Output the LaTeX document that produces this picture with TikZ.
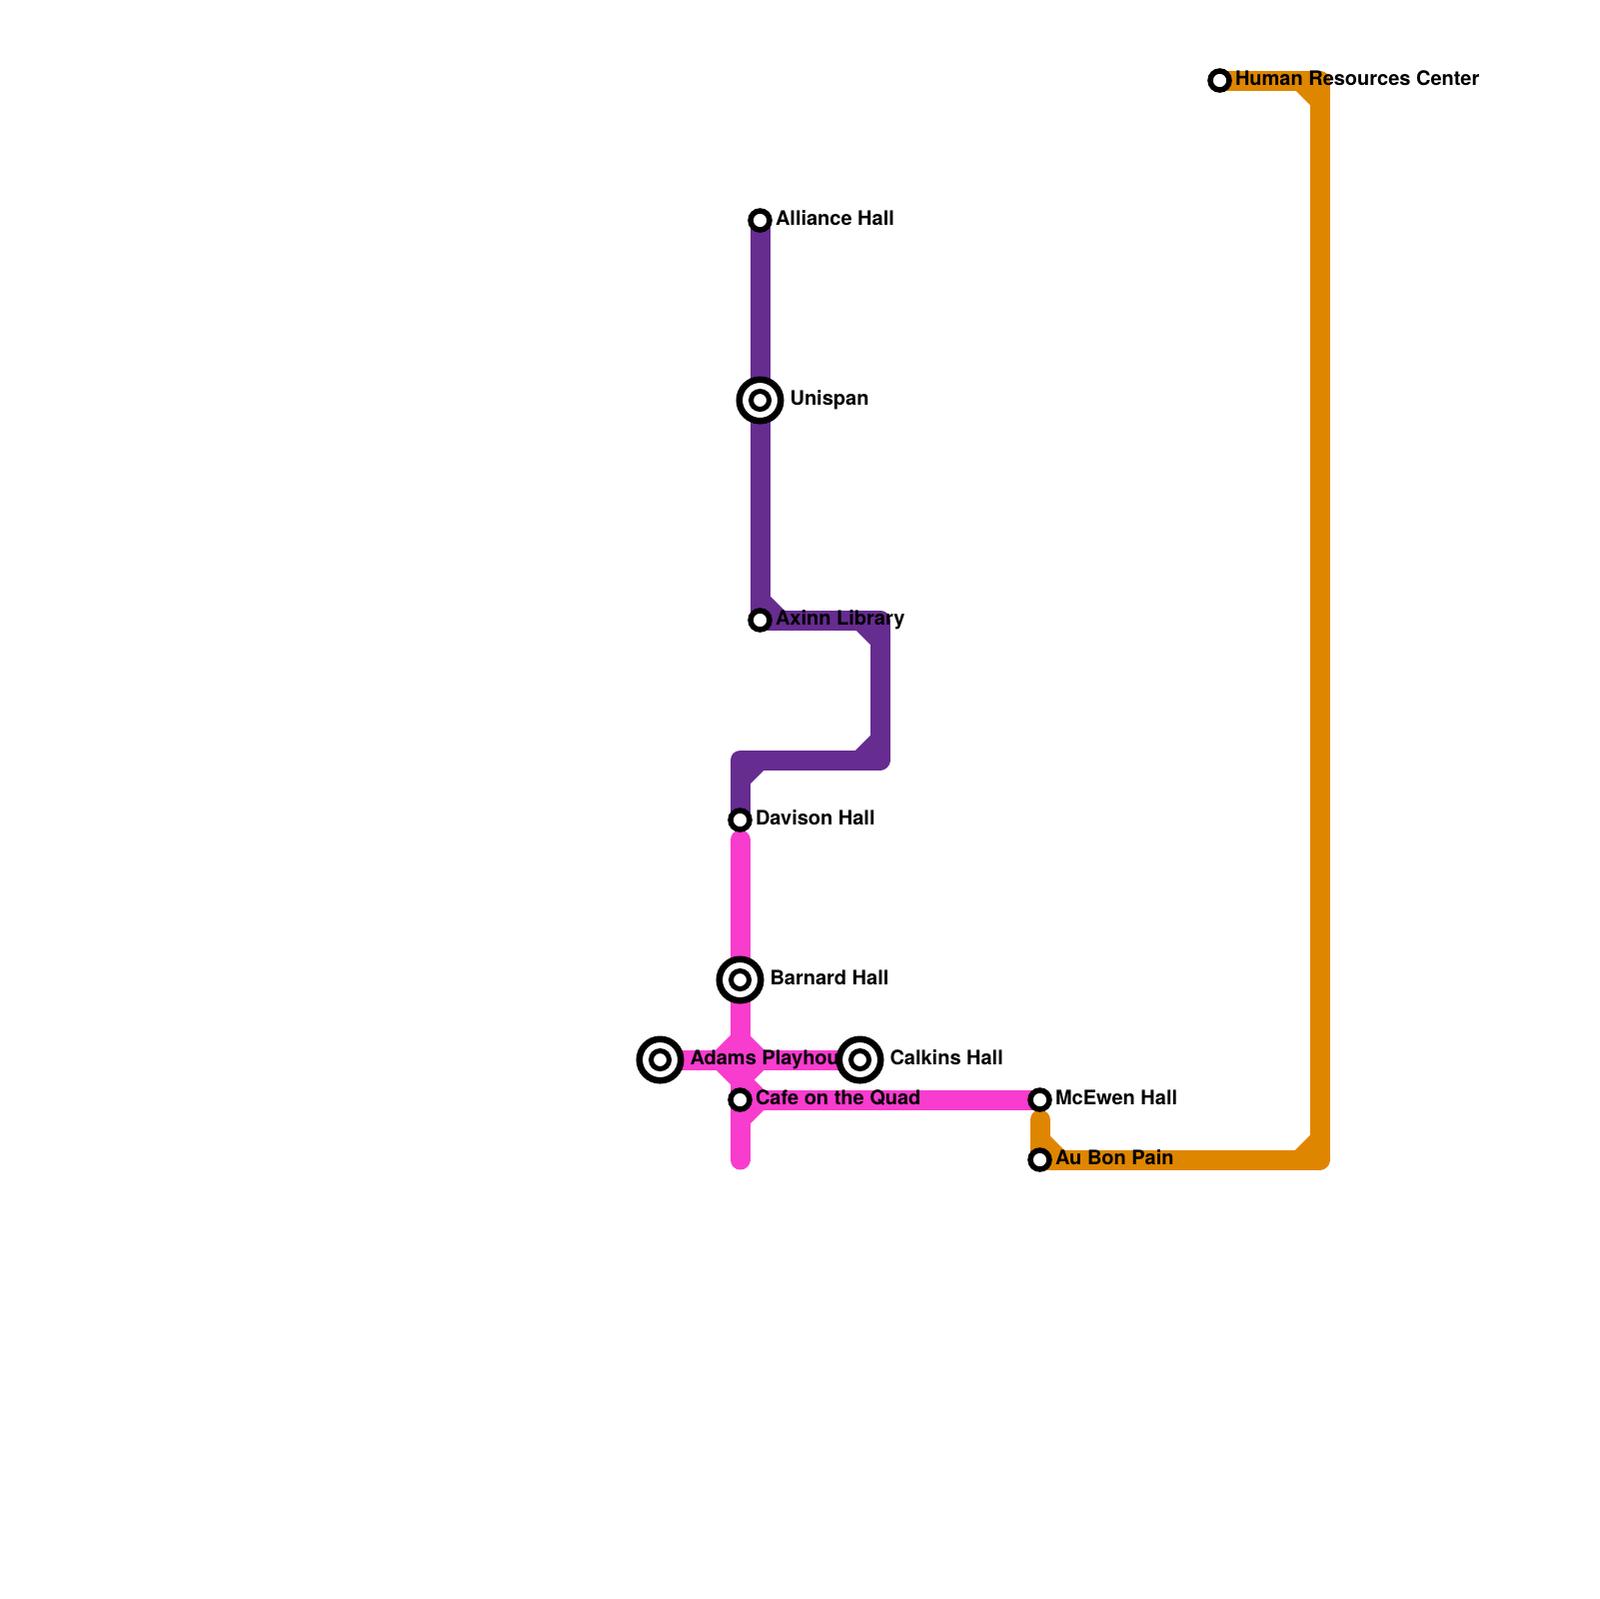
\documentclass[tikz,border=0pt]{standalone}
\usepackage{fontspec}
\setmainfont{TeX Gyre Heros}
\usetikzlibrary{backgrounds}
\definecolor{linePurple}{HTML}{662C90}
\definecolor{linePink}{HTML}{F83CCE}
\definecolor{lineOrange}{HTML}{DF8600}
\tikzset{
  metro/.style={line width=2mm,line cap=round,line join=round},
  bevel/.style={line width=2mm},
  stopsmall/.style={circle,draw=black,fill=white,line width=0.55mm,minimum size=1.9mm,inner sep=0pt,outer sep=0pt},
  stopbig/.style={circle,draw=black,fill=white,line width=0.65mm,minimum size=4.15mm,inner sep=0pt,outer sep=0pt,
    path picture={\draw[line width=0.5mm] (path picture bounding box.center) circle (9);}},
  stoplabel/.style={anchor=base west,inner sep=0pt,outer sep=0pt,font=\fontsize{5.69pt}{7pt}\selectfont\bfseries}
}
\begin{document}
\begin{tikzpicture}[x=0.1mm,y=-0.1mm]
  \useasboundingbox (-0.5,-0.5) rectangle (1599.5,1599.5);
  % stations in name order, later rings sit on earlier labels
  \foreach \n/\x/\y/\s/\d/\t in {adams/660/1060/stopbig/3/Adams Playhouse,alliance/760/220/stopsmall/1.55/Alliance Hall,aubon/1040/1160/stopsmall/1.55/Au Bon Pain,axinn/760/620/stopsmall/1.55/Axinn Library,barnard/740/980/stopbig/3/Barnard Hall,cafe/740/1100/stopsmall/1.55/Cafe on the Quad,calkins/860/1060/stopbig/3/Calkins Hall,davison/740/820/stopsmall/1.55/Davison Hall,human/1220/80/stopsmall/1.55/Human Resources Center,mcewen/1040/1100/stopsmall/1.55/McEwen Hall,unispan/760/400/stopbig/3/Unispan}
    {
      \node[\s] (\n) at (\x,\y) {};
      \node[stoplabel] (\n lab) at ([xshift=\d mm,yshift=-0.5mm]\n.center) {\t};
    }
  \coordinate (pa) at (880,620);
  \coordinate (pb) at (880,760);
  \coordinate (pc) at (740,760);
  \coordinate (ktop) at (740,840);
  \coordinate (kbot) at (740,1160);
  \coordinate (oa) at (1040,1120);
  \coordinate (ob) at (1320,1160);
  \coordinate (oc) at (1320,80);
  \begin{scope}[on background layer]
    \draw[metro,linePurple] (alliance.center) -- (axinn.center) -- (pa) -- (pb) -- (pc) -- (davison.center);
    \draw[metro,linePink] (ktop) -- (kbot);
    \draw[metro,linePink] (adams.center) -- (calkins.center);
    \draw[metro,linePink] (cafe.center) -- (mcewen.center);
    \draw[metro,lineOrange] (oa) -- (aubon.center) -- (ob) -- (oc) -- (human.center);
    % short diagonals at the inner corners
    \foreach \a/\b/\c/\e in {760/600/780/620,860/620/880/640,860/760/880/740,740/780/760/760}
      \draw[bevel,linePurple] (\a,\b) -- (\c,\e);
    \foreach \a/\b/\c/\e in {720/1060/740/1040,740/1040/760/1060,760/1060/740/1080,740/1080/720/1060,740/1080/760/1100,740/1120/760/1100}
      \draw[bevel,linePink] (\a,\b) -- (\c,\e);
    \foreach \a/\b/\c/\e in {1040/1140/1060/1160,1300/1160/1320/1140,1300/80/1320/100}
      \draw[bevel,lineOrange] (\a,\b) -- (\c,\e);
  \end{scope}
\end{tikzpicture}
\end{document}
